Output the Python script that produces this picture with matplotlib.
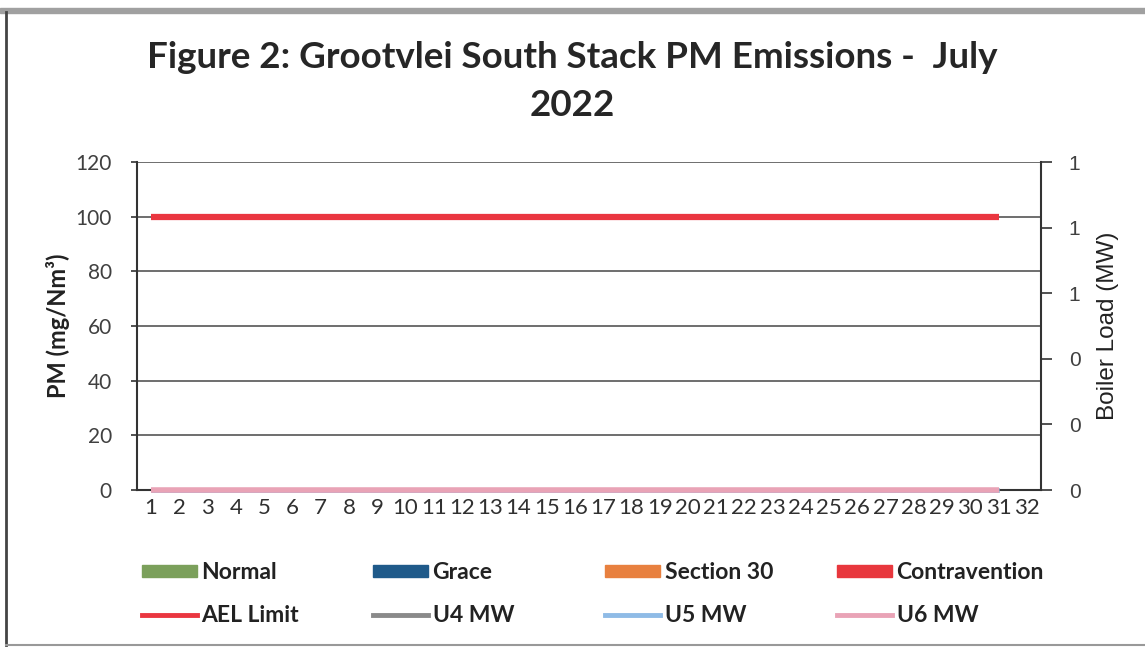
import matplotlib
matplotlib.use("Agg")
import matplotlib.pyplot as plt
import numpy as np
from matplotlib.patches import Patch, Rectangle
from matplotlib.lines import Line2D

plt.rcParams['font.family'] = ['Lato', 'DejaVu Sans']

# ---- data ----
days = [str(d) for d in range(1, 33)]
n_data = 31
normal = [0] * n_data
grace = [0] * n_data
section30 = [0] * n_data
contravention = [0] * n_data
ael_limit = [100] * n_data
u4_mw = [0] * n_data
u5_mw = [0] * n_data
u6_mw = [0] * n_data

left_ticks = [0, 20, 40, 60, 80, 100, 120]
right_ticks = [0, 0.2, 0.4, 0.6, 0.8, 1.0]

c_normal = '#7ba05b'
c_grace = '#1f5a8a'
c_s30 = '#e8803f'
c_contra = '#e8373d'
c_ael = '#ea3640'
c_u4 = '#8a8a8a'
c_u5 = '#8fbbe6'
c_u6 = '#e9a3b6'

fig = plt.figure(figsize=(11.45, 6.48), dpi=100)
ax = fig.add_axes([137/1145, 1-490/648, (1041-137)/1145, (490-162)/648])
ax2 = ax.twinx()

x = np.arange(len(days))
xd = x[:n_data]
w = 0.2
ax.bar(xd - 1.5*w, normal, w, color=c_normal)
ax.bar(xd - 0.5*w, grace, w, color=c_grace)
ax.bar(xd + 0.5*w, section30, w, color=c_s30)
ax.bar(xd + 1.5*w, contravention, w, color=c_contra)
ax.plot(xd, ael_limit, color=c_ael, lw=4.5, solid_capstyle='butt', zorder=4)
ax2.plot(xd, u4_mw, color=c_u4, lw=3.5, solid_capstyle='butt', clip_on=False, zorder=5)
ax2.plot(xd, u5_mw, color=c_u5, lw=3.5, solid_capstyle='butt', clip_on=False, zorder=5)
ax2.plot(xd, u6_mw, color=c_u6, lw=4, solid_capstyle='butt', clip_on=False, zorder=6)

ax.set_xlim(-0.5, len(days) - 0.5)
ax.set_ylim(0, 120)
ax.set_yticks(left_ticks)
ax.set_yticklabels([str(t) for t in left_ticks], fontsize=15, color='#404040')
ax.set_xticks(x)
ax.set_xticklabels(days, fontsize=16, color='#303030')
ax.tick_params(axis='x', length=0, pad=6)
ax.tick_params(axis='y', length=4, width=1.2, color='#333333', pad=14)
ax.grid(axis='y', color='#555555', lw=1.2)
ax.set_axisbelow(True)
for s in ['top', 'right']:
    ax.spines[s].set_visible(False)
for s in ['left', 'bottom']:
    ax.spines[s].set_color('#333333')
    ax.spines[s].set_linewidth(1.5)
ax.set_ylabel('PM (mg/Nm³)', fontsize=17, fontweight='bold', color='#222222', labelpad=4)

ax2.set_ylim(0, 1)
ax2.set_yticks(right_ticks)
ax2.set_yticklabels(['%.0f' % t for t in right_ticks], fontsize=15, color='#404040',
                    family=['Liberation Sans'])
ax2.tick_params(axis='y', length=8, width=1.2, color='#333333', pad=12)
for s in ['top', 'left', 'bottom']:
    ax2.spines[s].set_visible(False)
ax2.spines['right'].set_color('#333333')
ax2.spines['right'].set_linewidth(1.5)
ax2.set_ylabel('Boiler Load (MW)', fontsize=17.5, color='#222222', labelpad=12,
               family=['Liberation Sans'])

fig.text(0.5, 1-58/648, 'Figure 2: Grootvlei South Stack PM Emissions -  July',
         ha='center', va='center', fontsize=26.5, fontweight='bold', color='#262626')
fig.text(0.5, 1-105/648, '2022', ha='center', va='center', fontsize=26.5,
         fontweight='bold', color='#262626')

# legend columns
cols = [
    (Patch(color=c_normal), 'Normal', Line2D([], [], color=c_ael, lw=3.5), 'AEL Limit', 142),
    (Patch(color=c_grace), 'Grace', Line2D([], [], color=c_u4, lw=3.5), 'U4 MW', 373),
    (Patch(color=c_s30), 'Section 30', Line2D([], [], color=c_u5, lw=3.5), 'U5 MW', 605),
    (Patch(color=c_contra), 'Contravention', Line2D([], [], color=c_u6, lw=3.5), 'U6 MW', 837),
]
for h1, l1, h2, l2, xp in cols:
    leg = fig.legend([h1, h2], [l1, l2], loc='upper left',
                     bbox_to_anchor=(xp/1145, 1-562/648), frameon=False,
                     prop={'size': 16.5, 'weight': 'bold'}, handlelength=2.4,
                     handleheight=0.45, handletextpad=0.2, labelspacing=0.95,
                     borderaxespad=0, borderpad=0)
    for t in leg.get_texts():
        t.set_color('#222222')

# scan border
fig.patches.append(Rectangle((0, 1-13/648), 1, 5/648, transform=fig.transFigure,
                             color='#a0a0a0', zorder=0))
fig.add_artist(Line2D([6/1145, 6/1145], [3/648, 1-12/648], transform=fig.transFigure,
                      color='#444444', lw=2))
fig.add_artist(Line2D([6/1145, 1], [3/648, 3/648], transform=fig.transFigure,
                      color='#999999', lw=1.5))

fig.savefig('out.png', dpi=100)
